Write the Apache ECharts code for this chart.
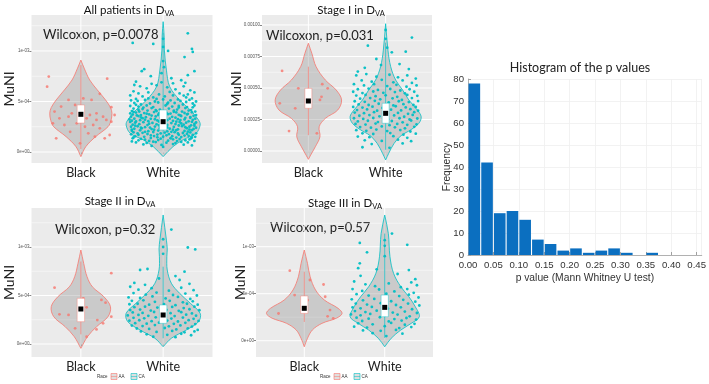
<!DOCTYPE html>
<html><head><meta charset="utf-8">
<script src="https://cdn.jsdelivr.net/npm/echarts@6/dist/echarts.min.js"></script>
<style>html,body{margin:0;padding:0;background:#fff}#c{width:709px;height:384px}</style>
</head><body><div id="c"></div>
<script>
// ---------------- DATA ----------------
const groups = ['Black', 'White'];
const raceKeys = ['AA', 'CA'];
const panelTitles = ['All patients in D', 'Stage I in D', 'Stage II in D', 'Stage III in D'];
const panelSub = 'VA';
const pValues = ['0.0078', '0.031', '0.32', '0.57'];
// MuNI values are stored in units of 1e-4
const yTicks = [[0, 5, 10], [0, 2.5, 5, 7.5, 10], [0, 5, 10], [0, 5, 10]];
const yTickLabels = [
  ['0e+00', '5e-04', '1e-03'],
  ['0.00000', '0.00025', '0.00050', '0.00075', '0.00100'],
  ['0e+00', '5e-04', '1e-03'],
  ['0e+00', '5e-04', '1e-03']
];
const yRanges = [[-1.09, 13.56], [-0.95, 10.79], [-1.34, 14.02], [-1.73, 14.12]];

// violin outlines: [MuNI (1e-4), half width (category units)], top to bottom
const violinAllBlack = [[9.1,0],[8.3,0.04],[7.13,0.107],[6.14,0.2],[5.15,0.3],[4.4,0.36],[3.83,0.378],[3.1,0.365],[2.5,0.33],[1.52,0.18],[0.53,0.06],[-0.46,0]];
const violinAllWhite = [[12.9,0],[11.5,0.012],[10.1,0.015],[8.1,0.04],[6.47,0.08],[5.15,0.2],[4.16,0.33],[3.17,0.43],[2.67,0.45],[1.85,0.4],[1.19,0.24],[0.53,0.12],[-0.46,0]];
const violinS1Black = [[8.55,0],[7.75,0.045],[6.69,0.1],[5.63,0.22],[4.84,0.36],[4.05,0.43],[3.25,0.38],[2.59,0.22],[1.93,0.14],[1.13,0.15],[0.34,0.09],[-0.32,0.03],[-0.66,0]];
const violinS1White = [[10.1,0],[8.0,0.03],[6.7,0.065],[5.63,0.13],[4.84,0.22],[4.05,0.3],[3.25,0.41],[2.72,0.46],[2.2,0.43],[1.7,0.33],[1.22,0.2],[0.61,0.11],[-0.18,0.04],[-0.71,0]];
const violinS2Black = [[9.69,0],[8.3,0.035],[6.94,0.075],[5.9,0.14],[4.87,0.28],[3.85,0.36],[2.82,0.33],[1.78,0.19],[0.75,0.08],[-0.45,0]];
const violinS2White = [[13.3,0],[10.7,0.04],[9.8,0.05],[9.0,0.045],[7.63,0.05],[6.26,0.1],[5.23,0.2],[4.2,0.33],[3.16,0.45],[2.3,0.43],[1.44,0.28],[0.59,0.1],[-0.28,0]];
const violinS3Black = [[9.65,0],[8.23,0.04],[6.81,0.073],[5.4,0.14],[4.33,0.25],[3.45,0.42],[2.9,0.47],[2.4,0.4],[1.85,0.22],[1.14,0.1],[0.26,0.04],[-0.64,0]];
const violinS3White = [[13.37,0],[11.4,0.045],[8.94,0.065],[7.17,0.11],[5.74,0.2],[4.68,0.3],[3.62,0.38],[2.55,0.43],[1.85,0.33],[1.14,0.2],[0.26,0.08],[-0.64,0]];

// box summaries: [q1, q3, median, whisker low, whisker high]
const boxAll = [[2.87, 4.65, 3.73, 0.3, 8.6], [2.18, 4.16, 3.0, 0.5, 11.8]];
const boxS1 = [[3.39, 4.97, 3.97, 1.26, 6.69], [2.2, 3.79, 2.99, 0.1, 8.6]];
const boxS2 = [[2.3, 4.71, 3.61, 1.0, 8.5], [2.13, 4.02, 2.99, 0.59, 7.97]];
const boxS3 = [[2.91, 4.76, 3.45, 2.0, 7.34], [2.55, 4.86, 3.55, 0.3, 11.4]];

// jittered points: [jitter offset, MuNI (1e-4)]
const ptsAllBlack = [[-0.39,7.46],[-0.41,6.47],[0.32,7.26],[0.37,4.44],[0.23,5.76],[0.13,5.15],[-0.24,4.5],[-0.32,4.0],[-0.26,3.33],[-0.15,3.5],[-0.11,3.83],[0.11,3.66],[0.19,3.83],[0.27,3.5],[0.31,3.17],[-0.2,2.67],[-0.05,2.84],[0.05,2.5],[0.15,2.67],[0.23,2.34],[-0.13,2.0],[0.09,1.85],[-0.3,1.35],[0.35,1.68],[-0.01,0.86],[-0.07,4.65],[0.03,5.3],[-0.34,2.84],[0.37,3.0],[0.19,3.17],[0.07,3.33],[0.29,1.35],[-0.15,5.15],[0.41,3.66],[0.17,1.52]];
const ptsAllWhite = [[0.30,11.75],[-0.37,10.8],[-0.12,10.7],[0.06,10.0],[0.35,10.2],[0.36,9.9],[0.26,9.4],[0.0,11.2],[0.0,10.4],[0.38,8.0],[-0.23,8.2],[-0.26,8.0],[0.22,7.1],[0.1,7.3],[-0.33,6.96],[-0.35,6.63],[0.0,9.0],[0.01,8.4],[-0.02,7.8],[0.3,7.6],[-0.15,7.5],
[-0.28,6.5],[-0.2,6.3],[-0.08,6.6],[0.05,6.4],[0.15,6.2],[0.25,6.5],[0.33,6.1],[-0.36,6.0],[-0.3,5.8],[-0.18,5.9],[-0.05,5.7],[0.08,5.95],[0.2,5.8],[0.3,5.7],[0.38,5.9],[-0.4,5.6],[-0.25,5.5],[-0.12,5.4],[0.02,5.5],[0.12,5.6],[0.28,5.4],[0.35,5.3],[-0.33,5.25],[0.18,5.2],[-0.02,6.9],[0.12,6.8],[-0.14,6.75],[0.27,6.85],
[-0.39,5.1],[-0.31,5.05],[-0.22,5.15],[-0.1,5.0],[0.0,5.2],[0.09,5.1],[0.21,5.05],[0.32,5.15],[0.4,5.0],[-0.35,4.85],[-0.27,4.7],[-0.16,4.8],[-0.06,4.9],[0.05,4.75],[0.14,4.85],[0.24,4.7],[0.36,4.8],[-0.4,4.55],[-0.3,4.5],[-0.2,4.6],[-0.12,4.45],[0.03,4.6],[0.11,4.5],[0.19,4.55],[0.29,4.45],[0.38,4.6],[-0.36,4.3],[-0.25,4.25],[-0.14,4.35],[-0.04,4.2],[0.07,4.3],[0.17,4.2],[0.27,4.35],[0.34,4.15],[-0.38,4.05],[-0.29,4.0],[-0.19,4.1],[-0.08,4.05],[0.01,4.0],[0.13,4.1],[0.23,4.0],[0.31,4.1],[0.39,4.0],
[-0.33,3.9],[-0.23,3.85],[-0.11,3.95],[0.04,3.88],[0.16,3.92],[0.26,3.86],[0.35,3.93],[-0.4,3.82],[0.09,3.8],[-0.37,3.7],[-0.27,3.65],[-0.17,3.72],[-0.06,3.66],[0.06,3.74],[0.19,3.68],[0.29,3.72],[0.4,3.65],[-0.02,3.58],[-0.39,3.5],[-0.3,3.55],[-0.21,3.45],[-0.09,3.52],[0.11,3.48],[0.22,3.55],[0.33,3.46],[0.37,3.58],[-0.14,3.6],[-0.35,3.3],[-0.25,3.35],[-0.15,3.28],[-0.03,3.36],[0.08,3.3],[0.18,3.25],[0.27,3.38],[0.39,3.3],[-0.41,3.22],[-0.38,3.1],[-0.28,3.15],[-0.18,3.05],[-0.07,3.12],[0.12,3.08],[0.21,3.16],[0.31,3.04],[0.36,3.18],[0.02,3.2],
[-0.34,2.9],[-0.24,2.95],[-0.13,2.88],[-0.01,2.94],[0.1,2.86],[0.2,2.96],[0.28,2.9],[0.4,2.92],[-0.4,2.98],[-0.37,2.7],[-0.29,2.75],[-0.19,2.66],[-0.08,2.74],[0.05,2.68],[0.15,2.76],[0.25,2.7],[0.34,2.64],[0.38,2.78],[-0.39,2.5],[-0.31,2.55],[-0.22,2.46],[-0.1,2.52],[0.0,2.58],[0.13,2.48],[0.23,2.56],[0.32,2.5],[-0.16,2.42],[-0.35,2.3],[-0.26,2.34],[-0.14,2.27],[-0.04,2.36],[0.08,2.3],[0.18,2.24],[0.29,2.35],[0.37,2.28],[0.4,2.4],[-0.38,2.1],[-0.28,2.14],[-0.18,2.06],[-0.06,2.12],[0.05,2.05],[0.16,2.15],[0.26,2.08],[0.35,2.16],
[-0.36,1.95],[-0.25,1.9],[-0.12,1.98],[0.02,1.92],[0.14,1.96],[0.24,1.88],[0.33,1.94],[0.4,1.85],[-0.39,1.75],[-0.3,1.7],[-0.19,1.78],[-0.07,1.72],[0.07,1.76],[0.19,1.7],[0.29,1.8],[0.36,1.68],[-0.34,1.55],[-0.23,1.5],[-0.11,1.58],[0.0,1.52],[0.11,1.56],[0.22,1.48],[0.31,1.6],[0.39,1.5],[-0.37,1.35],[-0.27,1.3],[-0.15,1.38],[-0.03,1.32],[0.09,1.36],[0.2,1.28],[0.34,1.34],[-0.3,1.15],[-0.17,1.1],[-0.06,1.18],[0.06,1.12],[0.17,1.08],[0.27,1.16],[0.38,1.1],[-0.33,0.95],[-0.2,0.9],[-0.09,0.98],[0.04,0.92],[0.15,0.88],[0.3,0.95],[-0.24,0.75],[-0.02,0.7],[0.12,0.78],[0.25,0.72],[-0.14,0.6],[0.35,0.65],[0.0,0.5],
[-0.36,3.97],[-0.2,3.79],[-0.05,3.83],[0.13,3.98],[0.3,3.78],[0.21,3.61],[-0.32,3.62],[0.02,3.43],[-0.27,3.42],[0.15,3.4],[0.33,3.39],[-0.1,3.24],[0.05,3.15],[0.26,3.22],[-0.22,3.2],[-0.33,3.02],[-0.05,3.02],[0.16,3.0],[0.35,2.99],[-0.17,2.8],[0.02,2.8],[0.22,2.82],[-0.34,2.6],[-0.05,2.63],[0.19,2.62],[0.38,2.6],[-0.27,2.4],[0.05,2.43],[0.27,2.45],[-0.11,2.2],[0.12,2.2],[0.32,2.22],[-0.38,2.22],[-0.22,2.0],[0.1,2.0],[0.3,2.01],[-0.31,1.85],[-0.03,1.84],[0.18,1.83],[-0.15,1.64],[0.04,1.65],[0.26,1.62],[-0.36,1.44],[-0.07,1.45],[0.16,1.43],[0.35,1.44],[-0.22,1.22],[0.12,1.25],[0.32,1.24],[-0.12,1.02],[0.22,1.0],[-0.38,1.05],[-0.3,4.18],[-0.09,4.15],[0.19,4.4],[0.36,4.42],[-0.24,4.4],[0.06,4.88],[-0.33,4.67],[0.28,4.95],[-0.18,5.3],[0.25,5.58],[-0.08,5.25]];
const ptsS1Black = [[-0.34,6.35],[0.18,5.3],[-0.13,4.97],[0.25,4.97],[0.15,4.05],[0.17,4.3],[-0.37,3.78],[-0.17,3.39],[-0.25,1.58],[0.11,1.4]];
const ptsS1White = [[0.34,9.0],[-0.23,8.36],[0.08,7.83],[0.26,7.88],[-0.06,6.82],[-0.12,7.3],[0.0,9.6],[0.0,8.9],[0.02,8.2],[-0.27,6.6],[0.3,6.5],[-0.36,6.3],[0.18,6.9],
[-0.38,6.0],[-0.25,6.1],[-0.12,5.9],[0.05,6.05],[0.16,5.85],[0.28,6.0],[0.39,5.75],[-0.31,5.6],[-0.18,5.5],[-0.05,5.65],[0.1,5.45],[0.22,5.6],[0.34,5.4],[-0.41,5.3],[-0.28,5.2],[-0.15,5.3],[0.02,5.15],[0.14,5.25],[0.27,5.1],[0.4,5.2],
[-0.36,4.9],[-0.22,4.95],[-0.1,4.85],[0.06,4.92],[0.19,4.8],[0.31,4.9],[-0.42,4.7],[-0.3,4.6],[-0.16,4.72],[-0.03,4.62],[0.12,4.68],[0.25,4.58],[0.37,4.7],[-0.38,4.4],[-0.26,4.45],[-0.13,4.35],[0.0,4.42],[0.15,4.3],[0.28,4.45],[0.41,4.38],[-0.33,4.15],[-0.2,4.2],[-0.07,4.1],[0.09,4.18],[0.21,4.05],[0.34,4.2],[-0.4,3.95],[-0.27,3.9],[-0.14,3.98],[0.04,3.86],[0.17,3.95],[0.3,3.88],[0.42,3.96],[-0.35,3.7],[-0.22,3.65],[-0.09,3.75],[0.1,3.62],[0.23,3.72],[0.36,3.66],
[-0.42,3.5],[-0.3,3.45],[-0.17,3.52],[-0.04,3.42],[0.13,3.55],[0.26,3.46],[0.39,3.5],[-0.37,3.25],[-0.24,3.3],[-0.11,3.2],[0.07,3.28],[0.2,3.22],[0.32,3.32],[0.42,3.2],[-0.4,3.05],[-0.28,3.0],[-0.15,3.08],[-0.02,2.98],[0.16,3.02],[0.29,2.95],[0.37,3.08],[-0.34,2.8],[-0.21,2.85],[-0.08,2.75],[0.11,2.82],[0.24,2.72],[0.35,2.86],[-0.41,2.6],[-0.29,2.55],[-0.16,2.62],[0.03,2.52],[0.18,2.6],[0.31,2.5],[0.41,2.58],[-0.36,2.35],[-0.23,2.4],[-0.1,2.3],[0.08,2.38],[0.22,2.28],[0.33,2.42],[-0.39,2.15],[-0.26,2.1],[-0.13,2.18],[0.05,2.05],[0.15,2.15],[0.28,2.08],[0.4,2.12],
[-0.33,1.9],[-0.19,1.85],[-0.05,1.95],[0.12,1.88],[0.25,1.8],[0.37,1.92],[-0.38,1.65],[-0.25,1.6],[-0.12,1.7],[0.02,1.58],[0.19,1.66],[0.32,1.55],[-0.3,1.4],[-0.16,1.35],[0.06,1.42],[0.23,1.3],[0.39,1.38],[-0.36,1.15],[-0.21,1.1],[0.1,1.18],[0.28,1.05],[-0.27,0.85],[-0.05,0.8],[0.16,0.9],[0.33,0.78],[-0.18,0.55],[0.22,0.6],[-0.3,0.3],[0.05,0.25]];
const ptsS2Black = [[-0.32,5.81],[0.37,7.3],[0.03,4.71],[0.25,4.54],[0.3,4.26],[-0.26,3.06],[-0.15,3.0],[0.07,3.78],[0.01,2.64],[0.2,2.47],[0.27,2.13],[-0.07,1.62],[0.19,1.5],[0.37,2.82],[0.07,0.76]];
const ptsS2White = [[0.1,11.8],[0.39,9.75],[0.3,9.95],[0.0,10.8],[0.0,10.0],[0.0,9.3],[-0.19,7.73],[-0.28,7.63],[0.26,7.46],[0.15,7.0],[0.2,6.6],[-0.35,6.3],[0.32,6.2],[-0.05,6.75],[-0.22,6.1],
[-0.4,5.9],[-0.3,5.6],[-0.14,5.75],[0.07,5.5],[0.22,5.8],[0.37,5.55],[-0.36,5.25],[-0.21,5.1],[-0.08,5.3],[0.12,5.05],[0.27,5.2],[0.41,5.0],[-0.42,4.8],[-0.28,4.75],[-0.13,4.9],[0.03,4.7],[0.18,4.85],[0.33,4.65],
[-0.38,4.45],[-0.24,4.5],[-0.1,4.35],[0.08,4.45],[0.24,4.3],[0.36,4.4],[-0.41,4.1],[-0.31,4.15],[-0.17,4.05],[0.01,4.12],[0.15,4.0],[0.29,4.15],[0.42,4.05],[-0.35,3.8],[-0.22,3.85],[-0.07,3.75],[0.11,3.82],[0.25,3.7],[0.38,3.85],[-0.4,3.5],[-0.28,3.55],[-0.15,3.45],[0.04,3.52],[0.19,3.42],[0.32,3.58],[0.44,3.48],[-0.37,3.25],[-0.25,3.2],[-0.11,3.3],[0.09,3.18],[0.22,3.28],[0.35,3.15],[-0.43,2.95],[-0.3,3.0],[-0.18,2.9],[0.0,2.98],[0.14,2.88],[0.28,3.02],[0.4,2.92],[-0.36,2.7],[-0.23,2.65],[-0.09,2.75],[0.1,2.62],[0.24,2.72],[0.37,2.6],[-0.41,2.4],[-0.29,2.45],[-0.14,2.35],[0.05,2.42],[0.18,2.32],[0.31,2.46],[0.43,2.38],[-0.34,2.15],[-0.2,2.1],[-0.05,2.2],[0.13,2.08],[0.27,2.18],[0.39,2.05],
[-0.38,1.9],[-0.25,1.85],[-0.1,1.95],[0.07,1.82],[0.21,1.92],[0.35,1.8],[-0.32,1.6],[-0.17,1.55],[0.02,1.65],[0.16,1.5],[0.3,1.62],[0.42,1.45],[-0.27,1.3],[-0.08,1.25],[0.11,1.35],[0.26,1.2],[0.38,1.3],[-0.2,1.0],[0.05,0.95],[0.22,1.05],[-0.12,0.75],[0.15,0.7],[0.34,0.9]];
const ptsS3Black = [[-0.18,7.45],[0.07,6.46],[0.24,5.98],[-0.12,4.86],[0.26,4.68],[-0.32,2.9],[0.0,3.8],[0.32,3.26],[0.36,2.38],[0.29,2.6],[0.04,4.32]];
const ptsS3White = [[0.09,11.4],[-0.31,10.4],[0.0,10.7],[0.0,10.1],[0.28,10.2],[-0.22,9.4],[0.0,9.0],[-0.31,8.23],[-0.33,7.72],[0.3,7.52],[0.38,6.55],[-0.3,6.9],[0.16,7.1],[-0.1,7.6],[0.33,6.2],[-0.38,6.3],
[-0.24,6.0],[-0.12,5.8],[0.05,6.1],[0.2,5.7],[0.4,5.9],[-0.4,5.5],[-0.28,5.3],[-0.07,5.45],[0.12,5.25],[0.28,5.5],[0.36,5.1],[-0.35,4.95],[-0.2,4.8],[0.02,5.0],[0.18,4.75],[0.3,4.9],[0.42,4.6],
[-0.41,4.4],[-0.27,4.3],[-0.13,4.45],[0.08,4.2],[0.23,4.35],[0.38,4.15],[-0.36,3.95],[-0.22,3.85],[-0.05,4.0],[0.14,3.8],[0.29,3.95],[0.43,3.75],[-0.4,3.55],[-0.3,3.45],[-0.16,3.6],[0.04,3.4],[0.2,3.55],[0.34,3.35],[-0.37,3.15],[-0.24,3.05],[-0.1,3.2],[0.1,3.0],[0.25,3.1],[0.4,2.95],[-0.42,2.8],[-0.3,2.7],[-0.18,2.85],[0.0,2.65],[0.16,2.78],[0.31,2.6],[-0.35,2.45],[-0.2,2.35],[-0.06,2.5],[0.12,2.3],[0.27,2.42],[0.39,2.25],[-0.28,2.1],[0.05,2.05],[0.21,2.15],
[-0.33,1.85],[-0.15,1.75],[0.08,1.9],[0.25,1.7],[0.37,1.8],[-0.38,1.5],[-0.22,1.4],[0.0,1.55],[0.18,1.35],[0.33,1.45],[-0.27,1.1],[-0.05,1.05],[0.14,1.15],[-0.15,0.8],[0.22,0.75],[0.02,0.5]];

// histogram of p values
const histBinCenters = [0.0125,0.0375,0.0625,0.0875,0.1125,0.1375,0.1625,0.1875,0.2125,0.2375,0.2625,0.2875,0.3125,0.3375,0.3625,0.3875,0.4125,0.4375];
const histCounts = [78,42,19,20,16,7,5,2,3,1,2,3,1,0,1,0,0,0];
const histTitle = 'Histogram of the p values';
const histXName = 'p value (Mann Whitney U test)';
const histYName = 'Frequency';

// ---------------- LAYOUT / STYLE ----------------
const colors = ['#F8766D', '#00BFC4'];
const TXT = 'Lato';
const panels = [
  {grid:{left:31.5, top:15, width:181, height:148}, violins:[violinAllBlack, violinAllWhite], box:boxAll, pts:[ptsAllBlack, ptsAllWhite], title:[129,10], wil:[43,35], nameGap:15},
  {grid:{left:262, top:15, width:170, height:148}, violins:[violinS1Black, violinS1White], box:boxS1, pts:[ptsS1Black, ptsS1White], title:[351,10], wil:[266,36], nameGap:19},
  {grid:{left:31.5, top:208, width:181, height:149}, violins:[violinS2Black, violinS2White], box:boxS2, pts:[ptsS2Black, ptsS2White], title:[120,201], wil:[55,230], nameGap:15},
  {grid:{left:256, top:208, width:177, height:149}, violins:[violinS3Black, violinS3White], box:boxS3, pts:[ptsS3Black, ptsS3White], title:[345,203], wil:[270,228], nameGap:9}
];

const grids = [], xAxes = [], yAxes = [], series = [], graphics = [];

panels.forEach((P, p) => {
  grids.push(Object.assign({show:true, backgroundColor:'#ebebeb', borderWidth:0, containLabel:false}, P.grid));
  xAxes.push({
    type:'value', gridIndex:p, min:0.4, max:2.6,
    axisLine:{show:false}, splitLine:{show:false},
    axisTick:{show:true, customValues:[1,2], length:2, lineStyle:{color:'#333', width:0.6}},
    axisLabel:{customValues:[1,2], formatter:v => groups[Math.round(v)-1], fontFamily:TXT, fontSize:12.5, color:'#222', margin:3}
  });
  const ticks = yTicks[p], labs = yTickLabels[p];
  yAxes.push({
    type:'value', gridIndex:p, min:yRanges[p][0], max:yRanges[p][1],
    axisLine:{show:false}, splitLine:{show:false},
    axisTick:{show:true, customValues:ticks, length:2, lineStyle:{color:'#333', width:0.6}},
    axisLabel:{customValues:ticks, formatter:v => labs[ticks.indexOf(v)] ?? '', fontFamily:'Liberation Sans', fontSize:4.5, color:'#555', margin:2},
    name:'MuNI', nameLocation:'middle', nameGap:P.nameGap, nameMoveOverlap:false,
    nameTextStyle:{fontFamily:TXT, fontSize:14, color:'#222'}
  });
  // grid lines (major + minor, white) drawn through the axes
  const step = ticks[1] - ticks[0];
  const gl = [];
  ticks.forEach(t => gl.push([0, t, 0]));
  for (let m = ticks[0] - step/2; m <= yRanges[p][1]; m += step) if (m >= yRanges[p][0]) gl.push([0, m, 1]);
  gl.push([1, 1, 0], [1, 2, 0]);
  series.push({
    type:'custom', xAxisIndex:p, yAxisIndex:p, silent:true, z:1, data:gl,
    renderItem:(params, api) => {
      const cs = params.coordSys, o = api.value(0), v = api.value(1), minor = api.value(2);
      if (o === 0) {
        const y = api.coord([1, v])[1];
        return {type:'line', shape:{x1:cs.x, y1:y, x2:cs.x+cs.width, y2:y}, style:{stroke:'#fff', lineWidth:minor ? 0.5 : 1}};
      }
      const x = api.coord([v, 0])[0];
      return {type:'line', shape:{x1:x, y1:cs.y, x2:x, y2:cs.y+cs.height}, style:{stroke:'#fff', lineWidth:1}};
    }
  });
  // violins
  series.push({
    type:'custom', xAxisIndex:p, yAxisIndex:p, silent:true, z:2, data:[[0],[1]],
    renderItem:(params, api) => {
      const g = api.value(0), shape = P.violins[g], cx = g + 1;
      const right = shape.map(([v, hw]) => api.coord([cx + hw, v]));
      const left = shape.slice().reverse().map(([v, hw]) => api.coord([cx - hw, v]));
      return {type:'polygon', shape:{points:right.concat(left), smooth:0.35},
        style:{fill:'rgba(150,150,150,0.38)', stroke:colors[g], lineWidth:0.8}};
    }
  });
  // jittered points
  P.pts.forEach((arr, g) => {
    series.push({
      type:'scatter', xAxisIndex:p, yAxisIndex:p, silent:true, z:3, symbolSize:2.8,
      itemStyle:{color:colors[g], opacity:g ? 0.95 : 0.8},
      data:arr.map(([dx, v]) => [g + 1 + dx, v])
    });
  });
  // boxes
  series.push({
    type:'custom', xAxisIndex:p, yAxisIndex:p, silent:true, z:4,
    data:P.box.map((b, g) => [g + 1].concat(b)),
    renderItem:(params, api) => {
      const cx = api.value(0), g = Math.round(cx) - 1;
      const q1 = api.value(1), q3 = api.value(2), med = api.value(3), wl = api.value(4), wh = api.value(5);
      const hw = 0.045;
      const pTop = api.coord([cx, wh]), pBot = api.coord([cx, wl]);
      const a = api.coord([cx - hw, q3]), b = api.coord([cx + hw, q1]);
      const m = api.coord([cx, med]);
      return {type:'group', children:[
        {type:'line', shape:{x1:pTop[0], y1:pTop[1], x2:pBot[0], y2:pBot[1]}, style:{stroke:colors[g], lineWidth:0.7}},
        {type:'rect', shape:{x:a[0], y:a[1], width:b[0]-a[0], height:b[1]-a[1]}, style:{fill:'#fff', stroke:colors[g], lineWidth:0.4}},
        {type:'rect', shape:{x:m[0]-2.5, y:m[1]-2.5, width:5, height:5}, style:{fill:'#000'}}
      ]};
    }
  });
  graphics.push({type:'text', x:P.title[0], y:P.title[1], silent:true,
    style:{text:'{a|' + panelTitles[p] + '}{s|' + panelSub + '}', align:'center', verticalAlign:'middle',
      rich:{a:{fontFamily:TXT, fontSize:11.5, fill:'#111'}, s:{fontFamily:TXT, fontSize:7.5, fill:'#111', padding:[8,0,0,0]}}}});
  graphics.push({type:'text', x:P.wil[0], y:P.wil[1], silent:true,
    style:{text:'Wilcoxon, p=' + pValues[p], align:'left', verticalAlign:'middle', fontFamily:TXT, fontSize:13, fill:'#222'}});
});

// bottom legends (Race: AA / CA) under the lower panels
[[97, 376.5], [320, 376.5]].forEach(([lx, ly]) => {
  const ch = [{type:'text', x:0, y:0, style:{text:'Race', fontSize:4.5, fontFamily:'Liberation Sans', fill:'#333', verticalAlign:'middle'}}];
  raceKeys.forEach((k, i) => {
    const ox = 14 + i * 20;
    ch.push({type:'rect', shape:{x:ox, y:-3, width:6, height:6}, style:{fill:'rgba(150,150,150,0.3)', stroke:colors[i], lineWidth:0.6}});
    ch.push({type:'line', shape:{x1:ox, y1:0, x2:ox+6, y2:0}, style:{stroke:colors[i], lineWidth:0.5}});
    ch.push({type:'text', x:ox + 7.5, y:0, style:{text:k, fontSize:4.5, fontFamily:'Liberation Sans', fill:'#333', verticalAlign:'middle'}});
  });
  graphics.push({type:'group', x:lx, y:ly, silent:true, children:ch});
});

// histogram
const hg = grids.length;
grids.push({left:468, top:79, width:235, height:176, show:false});
xAxes.push({
  type:'value', gridIndex:hg, min:0, max:0.46, interval:0.05,
  axisLine:{show:true, lineStyle:{color:'#a0a0a0', width:0.8}},
  axisTick:{show:true, inside:true, length:3, lineStyle:{color:'#a0a0a0'}},
  axisLabel:{formatter:v => v.toFixed(2), fontFamily:'Liberation Sans', fontSize:9.6, color:'#333', margin:5, showMaxLabel:false},
  splitLine:{show:true, lineStyle:{color:'#efefef', width:0.8}},
  name:histXName, nameLocation:'middle', nameGap:18, nameMoveOverlap:false,
  nameTextStyle:{fontFamily:'Liberation Sans', fontSize:10.3, color:'#333', verticalAlign:'top'}
});
yAxes.push({
  type:'value', gridIndex:hg, min:0, max:80, interval:10,
  axisLine:{show:true, lineStyle:{color:'#a0a0a0', width:0.8}},
  axisTick:{show:true, inside:true, length:3, lineStyle:{color:'#a0a0a0'}},
  axisLabel:{fontFamily:'Liberation Sans', fontSize:9.6, color:'#333', margin:4},
  splitLine:{show:true, lineStyle:{color:'#efefef', width:0.8}},
  name:histYName, nameLocation:'middle', nameGap:16, nameMoveOverlap:false,
  nameTextStyle:{fontFamily:'Liberation Sans', fontSize:10.3, color:'#333'}
});
series.push({
  type:'bar', xAxisIndex:hg, yAxisIndex:hg, barWidth:11.6, silent:true,
  itemStyle:{color:'#0b6fc0'},
  data:histBinCenters.map((c, i) => [c, histCounts[i]])
});
graphics.push({type:'text', x:580, y:68, silent:true,
  style:{text:histTitle, align:'center', verticalAlign:'middle', fontFamily:TXT, fontSize:12.5, fill:'#222'}});

const chart = echarts.init(document.getElementById('c'), null, {renderer:'canvas'});
chart.setOption({animation:false, backgroundColor:'#fff', grid:grids, xAxis:xAxes, yAxis:yAxes, series:series, graphic:graphics});
</script></body></html>
